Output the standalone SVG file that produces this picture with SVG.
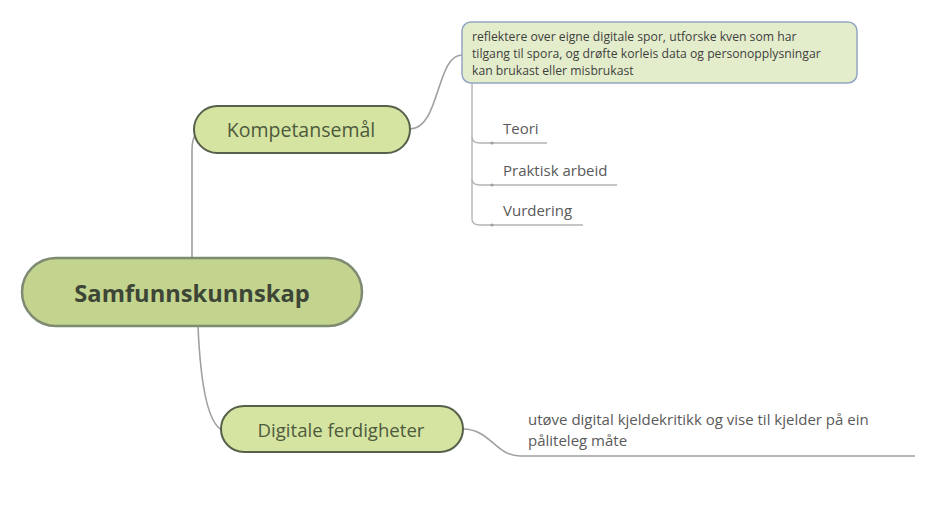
<svg xmlns="http://www.w3.org/2000/svg" width="940" height="507" viewBox="0 0 940 507">
<style>
text{font-family:"Open Sans","Noto Sans","Liberation Sans",sans-serif}
.con{fill:none;stroke:#a0a0a0;stroke-width:1.6}
.sub{fill:none;stroke:#b4b4b4;stroke-width:1.4}
.t{fill:#5a5a5a;font-size:15px}
.tb{fill:#3f3f3f;font-size:12.2px}
.mid{fill:#4e5a3e;text-anchor:middle}
</style>
<rect width="940" height="507" fill="#ffffff"/>
<g id="connectors">
<path class="con" d="M192,257 L192,150 Q192,138 197,132"/>
<path class="con" d="M198,326 Q202,420 222,430"/>
<path class="con" d="M410,129 C440,129 436,55 462,55"/>
<path class="con" d="M463,429 C490,429 496,456 520,456 L915,456"/>
<path class="sub" d="M472,83 L472,219 Q472,225 480,225 L583,225"/>
<path class="sub" d="M472,137 Q472,143 480,143 L547,143"/>
<path class="sub" d="M472,179 Q472,185 480,185 L617,185"/>
<circle cx="492" cy="143" r="1.6" fill="#a0a0a0"/>
<circle cx="492" cy="185" r="1.6" fill="#a0a0a0"/>
<circle cx="492" cy="225" r="1.6" fill="#a0a0a0"/>
</g>
<g id="central">
<rect x="22" y="258" width="340" height="68" rx="34" fill="#c3d48e" stroke="#7e8a72" stroke-width="2.5"/>
<text x="192" y="302" text-anchor="middle" font-size="23.7" font-weight="bold" fill="#3d4636">Samfunnskunnskap</text>
</g>
<g id="kompetansemal">
<rect x="194" y="106" width="216" height="47" rx="23.5" fill="#d5e5a1" stroke="#56604a" stroke-width="2"/>
<text class="mid" x="301" y="137" font-size="19.5">Kompetansemål</text>
</g>
<g id="digitale">
<rect x="221" y="406" width="242" height="46" rx="23" fill="#d5e5a1" stroke="#56604a" stroke-width="2"/>
<text class="mid" x="341" y="437" font-size="18.6">Digitale ferdigheter</text>
</g>
<g id="refleksjon">
<rect x="462" y="22" width="395" height="61" rx="9" fill="#e4edcb" stroke="#92a6c4" stroke-width="1.5"/>
<text class="tb" x="472" y="41">reflektere over eigne digitale spor, utforske kven som har</text>
<text class="tb" x="472" y="58">tilgang til spora, og drøfte korleis data og personopplysningar</text>
<text class="tb" x="472" y="75">kan brukast eller misbrukast</text>
</g>
<g id="teori"><text class="t" x="503" y="134">Teori</text></g>
<g id="praktisk"><text class="t" x="503" y="176">Praktisk arbeid</text></g>
<g id="vurdering"><text class="t" x="503" y="216">Vurdering</text></g>
<g id="kjeldekritikk">
<text class="t" x="528" y="425">utøve digital kjeldekritikk og vise til kjelder på ein</text>
<text class="t" x="528" y="446">påliteleg måte</text>
</g>
</svg>
